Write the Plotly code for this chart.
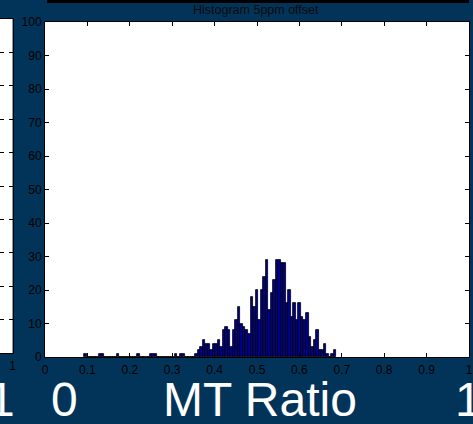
import numpy as np
import plotly.graph_objects as go

# ---- data ----
bin_start = 0.092
bin_width = 0.00595
counts = [
    1, 0, 0, 0, 0, 0, 1, 1, 0, 0,
    0, 0, 0, 1, 0, 0, 0, 0, 0, 0,
    0, 1, 0, 0, 0, 0, 1, 1, 1, 0,
    0, 0, 0, 0, 0, 0, 1, 0, 1, 1,
    0, 0, 0, 0, 1, 2, 3, 5, 4, 4,
    2, 4, 4, 5, 3, 8, 9, 8, 3, 8,
    11, 15, 10, 9, 8, 7, 18, 15, 20, 11,
    20, 24, 29, 14, 19, 23, 29, 29, 28, 28,
    16, 20, 12, 16, 11, 16, 12, 11, 13, 6,
    3, 5, 8, 2, 2, 4, 1, 0, 1, 2,
]
x_tickvals = [0, 0.1, 0.2, 0.3, 0.4, 0.5, 0.6, 0.7, 0.8, 0.9, 1.0]
x_ticktext = ["0", "0.1", "0.2", "0.3", "0.4", "0.5", "0.6", "0.7", "0.8", "0.9", "1"]
y_tickvals = [0, 10, 20, 30, 40, 50, 60, 70, 80, 90, 100]
title_text = "Histogram 5ppm offset"
axis_label = "MT Ratio"

centers = bin_start + bin_width * (np.arange(len(counts)) + 0.5)

W, H = 473, 424
BG = "#023459"
FONT = "Liberation Sans, Arial, sans-serif"

fig = go.Figure()
fig.add_trace(go.Bar(
    x=centers, y=counts, width=bin_width,
    marker=dict(color="#00008F", line=dict(color="black", width=0.8)),
    xaxis="x", yaxis="y", showlegend=False,
))
# invisible trace to activate the partial left panel axes
fig.add_trace(go.Scatter(x=[], y=[], xaxis="x2", yaxis="y2", showlegend=False))

ax_common = dict(showline=True, linecolor="black", linewidth=1, mirror="ticks",
                 ticks="inside", ticklen=4, tickcolor="black", showgrid=False,
                 zeroline=False, automargin=False,
                 tickfont=dict(family=FONT, size=12, color="black"))

fig.update_layout(
    width=W, height=H, margin=dict(l=0, r=0, t=0, b=0, pad=0), autosize=False,
    paper_bgcolor=BG, plot_bgcolor="white", bargap=0,
    xaxis=dict(domain=[45 / W, 469 / W], range=[0, 1], tickvals=x_tickvals,
               ticktext=x_ticktext, anchor="y", ticklabelstandoff=2, **ax_common),
    yaxis=dict(domain=[(H - 357) / H, (H - 22) / H], range=[0, 100],
               tickvals=y_tickvals, anchor="x", **ax_common),
    xaxis2=dict(domain=[0, 12.5 / W], range=[0.97, 1.0], tickvals=[1],
                ticktext=["1"], anchor="y2", ticklabelstandoff=2, **ax_common),
    yaxis2=dict(domain=[(H - 353) / H, (H - 19) / H], range=[0, 100],
                tickvals=y_tickvals, showticklabels=False, side="right",
                anchor="x2", **ax_common),
)

fig.add_shape(type="rect", xref="paper", yref="paper",
              x0=47 / W, x1=469 / W, y0=(H - 3) / H, y1=1.0,
              fillcolor="black", line=dict(width=0), layer="above")

fig.add_annotation(text=title_text, xref="paper", yref="paper",
                   x=255.5 / W, y=(H - 10) / H, xanchor="center", yanchor="middle",
                   showarrow=False, font=dict(family=FONT, size=12.5, color="#0a0a0a"))

big = dict(family=FONT, size=48, color="white")
for txt, px in [("1", 1.0), ("0", 64.5), (axis_label, 260.0), ("1", 468.5)]:
    fig.add_annotation(text=txt, xref="paper", yref="paper", x=px / W,
                       y=(H - 399) / H, xanchor="center", yanchor="middle",
                       showarrow=False, font=big)

fig.write_html("out.html")
